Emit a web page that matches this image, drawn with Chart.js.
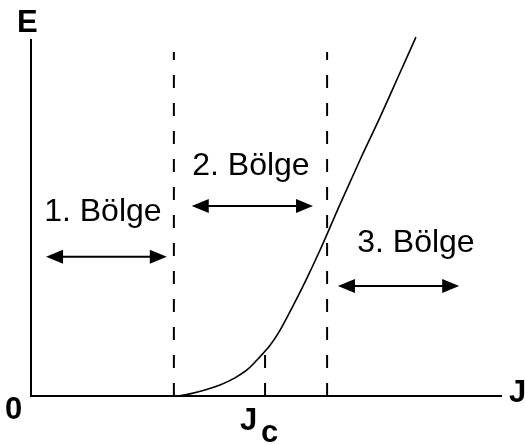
<!DOCTYPE html>
<html>
<head>
<meta charset="utf-8">
<script src="https://cdn.jsdelivr.net/npm/chart.js@4/dist/chart.umd.min.js"></script>
<style>
  html, body { margin: 0; padding: 0; background: #fff; }
  #wrap { width: 525px; height: 446px; }
</style>
</head>
<body>
<div id="wrap"><canvas id="c" width="525" height="446"></canvas></div>
<script>
// E-J eğrisi (keyfi birimler, J: 0..10, E: 0..10)
const curveJ = [3.13, 3.38, 3.70, 4.02, 4.34, 4.62, 4.87, 5.09, 5.30, 5.55, 5.83, 6.15, 6.57, 7.00, 7.43, 7.81, 8.19];
const curveE = [0.00, 0.06, 0.17, 0.31, 0.51, 0.76, 1.10, 1.43, 1.85, 2.47, 3.20, 4.10, 5.37, 6.63, 7.84, 8.96, 10.08];

// bölge sınırları (kesikli dikey çizgiler)
const boundJ = [3.04, 6.30];
const boundTop = 9.66;
const jc = 4.98;
const jcTop = 1.15;

// bölge etiketleri ve oklar
const regionLabels = ['1. Bölge', '2. Bölge', '3. Bölge'];
const labelJ = [1.53, 4.68, 8.19];
const labelE = [4.92, 6.21, 4.04];
const arrowFrom = [0.32, 3.42, 6.53];
const arrowTo = [2.89, 6.00, 9.11];
const arrowE = [3.91, 5.34, 3.09];

const FONT = '"Liberation Sans", Arial, sans-serif';

const pts = (xs, ys) => xs.map((x, i) => ({ x, y: ys[i] }));

const dashed = (j, top) => ({
    data: [{ x: j, y: 0 }, { x: j, y: top }],
    borderColor: '#000', borderWidth: 2, borderDash: [13, 15],
    pointRadius: 0, showLine: true, fill: false
});

const annotate = {
    id: 'annotate',
    afterDatasetsDraw(chart) {
        const { ctx, scales: { x, y } } = chart;
        ctx.save();
        ctx.fillStyle = '#000';
        ctx.strokeStyle = '#000';

        // bölge yazıları
        ctx.font = '32px ' + FONT;
        ctx.textAlign = 'center';
        ctx.textBaseline = 'alphabetic';
        regionLabels.forEach((t, i) => {
            ctx.fillText(t, x.getPixelForValue(labelJ[i]), y.getPixelForValue(labelE[i]));
        });

        // çift yönlü oklar
        const head = 17, half = 7;
        arrowFrom.forEach((a, i) => {
            const x1 = x.getPixelForValue(a), x2 = x.getPixelForValue(arrowTo[i]);
            const yy = y.getPixelForValue(arrowE[i]);
            ctx.lineWidth = 2;
            ctx.beginPath();
            ctx.moveTo(x1 + head - 2, yy);
            ctx.lineTo(x2 - head + 2, yy);
            ctx.stroke();
            ctx.beginPath();
            ctx.moveTo(x1, yy); ctx.lineTo(x1 + head, yy - half); ctx.lineTo(x1 + head, yy + half);
            ctx.closePath(); ctx.fill();
            ctx.beginPath();
            ctx.moveTo(x2, yy); ctx.lineTo(x2 - head, yy - half); ctx.lineTo(x2 - head, yy + half);
            ctx.closePath(); ctx.fill();
        });

        // eksen yazıları
        const x0 = x.getPixelForValue(0), y0 = y.getPixelForValue(0);
        ctx.font = 'bold 31px ' + FONT;
        ctx.textAlign = 'left';
        ctx.fillText('E', x0 - 14, y.top - 8);
        ctx.fillText('0', x0 - 26, y0 + 23);
        ctx.fillText('J', x.right + 8, y0 + 6);
        const jcx = x.getPixelForValue(jc);
        ctx.fillText('J', jcx - 25, y0 + 34);
        ctx.fillText('c', jcx - 4, y0 + 46);
        ctx.restore();
    }
};

new Chart(document.getElementById('c'), {
    type: 'scatter',
    data: {
        datasets: [
            {
                data: pts(curveJ, curveE),
                borderColor: '#000', borderWidth: 1.6,
                pointRadius: 0, showLine: true, fill: false,
                cubicInterpolationMode: 'monotone'
            },
            dashed(boundJ[0], boundTop),
            dashed(boundJ[1], boundTop),
            dashed(jc, jcTop)
        ]
    },
    options: {
        responsive: false,
        animation: false,
        clip: false,
        layout: { padding: { left: 31, right: 24, top: 40, bottom: 50 } },
        plugins: { legend: { display: false }, tooltip: { enabled: false } },
        scales: {
            x: {
                type: 'linear', min: 0, max: 10,
                grid: { display: false, drawTicks: false },
                ticks: { display: false },
                border: { display: true, color: '#000', width: 2 },
                afterFit: s => { s.height = 0; }
            },
            y: {
                type: 'linear', min: 0, max: 10,
                grid: { display: false, drawTicks: false },
                ticks: { display: false },
                border: { display: true, color: '#000', width: 2 },
                afterFit: s => { s.width = 0; }
            }
        }
    },
    plugins: [annotate]
});
</script>
</body>
</html>
